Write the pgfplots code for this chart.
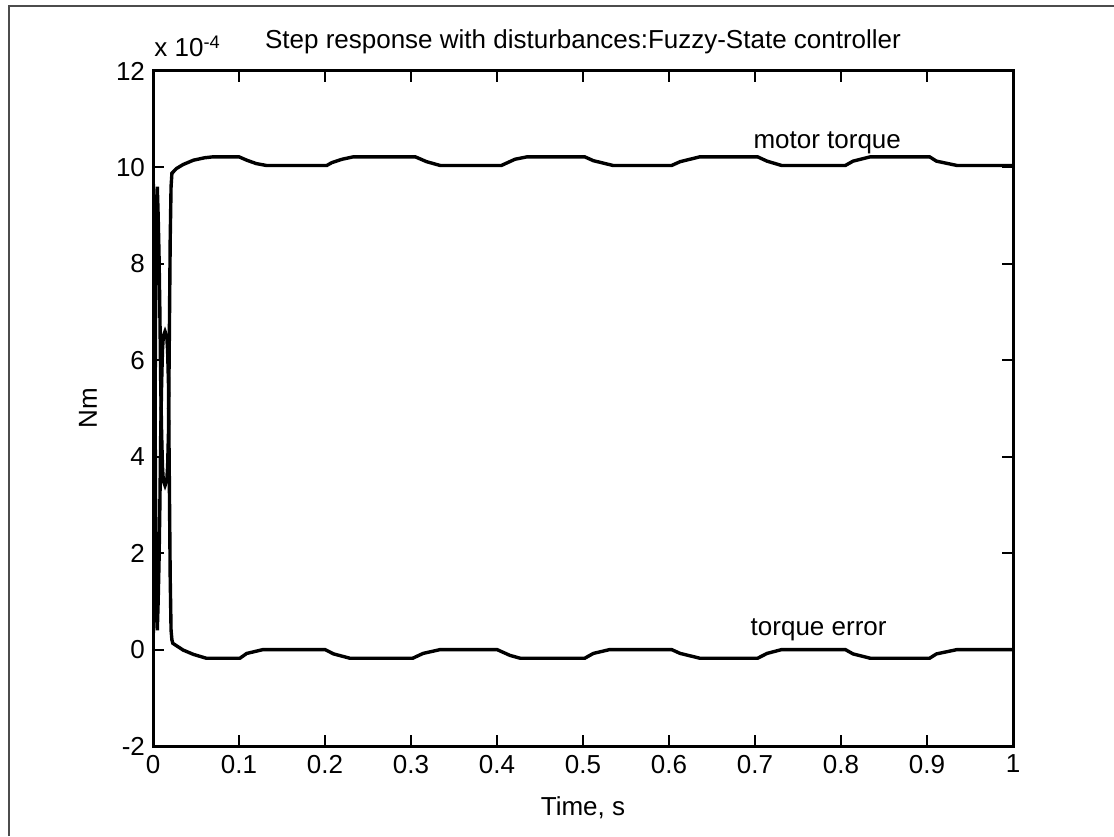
\documentclass[border=0pt]{standalone}
\usepackage{pgfplots}
\pgfplotsset{compat=1.18}
\usepackage{fontspec}
\setmainfont{Liberation Sans}
\begin{document}
\begin{tikzpicture}[x=1pt,y=1pt]
\useasboundingbox (0,0) rectangle (557,418);
\fill[white] (0,0) rectangle (557,418);
\draw[black!70, line width=0.7pt] (4.5,0) -- (4.5,415) -- (557,415);
\begin{axis}[
  at={(76.5pt,45pt)}, anchor=south west,
  width=430pt, height=337.5pt, scale only axis,
  xmin=0, xmax=1, ymin=-2, ymax=12,
  xtick={0,0.1,0.2,0.3,0.4,0.5,0.6,0.7,0.8,0.9,1},
  xticklabels={0,0.1,0.2,0.3,0.4,0.5,0.6,0.7,0.8,0.9,1},
  ytick={-2,0,2,4,6,8,10,12},
  yticklabels={-2,0,2,4,6,8,10,12},
  tick align=inside, major tick length=5.5pt,
  every tick/.style={black, line width=1pt},
  axis line style={line width=1.5pt},
  tick label style={font=\fontsize{13}{15}\selectfont},
  xticklabel style={yshift=-1pt},
  yticklabel style={xshift=-0.5pt},
  /pgf/number format/assume math mode=true,
  scaled y ticks=false,
]
\addplot[black, line width=1.7pt] coordinates {
(0,0) (0.001,1.0) (0.002,3.5) (0.003,7.0) (0.004,9.2) (0.005,9.6) (0.006,9.0)
(0.007,8.2) (0.008,7.0) (0.009,5.5) (0.010,4.5) (0.011,3.8) (0.012,3.5)
(0.014,3.4) (0.016,3.5) (0.017,3.8) (0.018,4.5) (0.019,6.5) (0.020,8.5)
(0.021,9.6) (0.022,9.88) (0.0275,9.98) (0.035,10.06) (0.047,10.15) (0.06,10.2)
(0.07,10.22) (0.10,10.22) (0.109,10.15) (0.12,10.08) (0.132,10.04) (0.202,10.04)
(0.208,10.1) (0.22,10.17) (0.233,10.22) (0.305,10.22) (0.318,10.12) (0.334,10.04)
(0.405,10.04) (0.421,10.17) (0.435,10.22) (0.502,10.22) (0.512,10.14) (0.535,10.04)
(0.603,10.04) (0.613,10.12) (0.636,10.22) (0.703,10.22) (0.714,10.13) (0.731,10.04)
(0.805,10.04) (0.814,10.13) (0.834,10.22) (0.903,10.22) (0.911,10.13) (0.935,10.04)
(1.0,10.04)
};
\addplot[black, line width=1.7pt] coordinates {
(0,10) (0.001,9.0) (0.002,6.5) (0.003,3.0) (0.004,0.8) (0.005,0.4) (0.006,1.0)
(0.007,1.8) (0.008,3.0) (0.009,4.5) (0.010,5.5) (0.011,6.2) (0.012,6.5)
(0.014,6.6) (0.016,6.5) (0.017,6.2) (0.018,5.5) (0.019,3.5) (0.020,1.5)
(0.021,0.4) (0.022,0.2) (0.023,0.13) (0.035,-0.01) (0.047,-0.1) (0.062,-0.18)
(0.101,-0.18) (0.109,-0.08) (0.128,0.0) (0.200,0.0) (0.21,-0.09) (0.229,-0.18)
(0.302,-0.18) (0.314,-0.08) (0.334,0.0) (0.400,0.0) (0.415,-0.12) (0.427,-0.18)
(0.502,-0.18) (0.512,-0.08) (0.531,0.0) (0.603,0.0) (0.613,-0.08) (0.636,-0.18)
(0.703,-0.18) (0.714,-0.08) (0.731,0.0) (0.805,0.0) (0.814,-0.09) (0.834,-0.18)
(0.903,-0.18) (0.911,-0.09) (0.935,0.0) (1.0,0.0)
};
\node[anchor=base, font=\fontsize{13}{15}\selectfont] at (axis cs:0.784,10.4) {motor torque};
\node[anchor=base, font=\fontsize{13}{15}\selectfont] at (axis cs:0.774,0.3) {torque error};
\end{axis}
\node[anchor=base, font=\fontsize{13}{15}\selectfont] at (291.5,393.5) {Step response with disturbances:Fuzzy-State controller};
\node[anchor=base west, inner sep=0pt, font=\fontsize{13}{15}\selectfont] at (77,389.5) {x 10\textsuperscript{-4}};
\node[anchor=base, inner sep=0pt, font=\fontsize{13}{15}\selectfont] at (291.5,10.5) {Time, s};
\node[rotate=90, font=\fontsize{13}{15}\selectfont] at (44,213.75) {Nm};
\end{tikzpicture}
\end{document}
